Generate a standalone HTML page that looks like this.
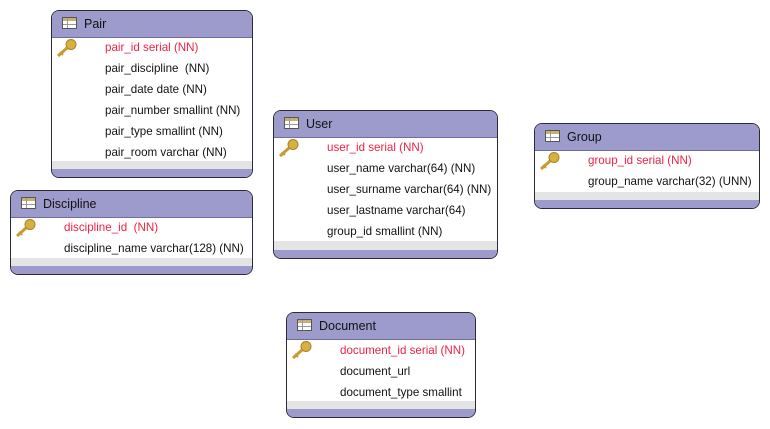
<!DOCTYPE html>
<html><head><meta charset="utf-8"><style>
html,body{margin:0;padding:0;background:#fff;width:770px;height:429px;overflow:hidden}
.t{position:absolute;border:1px solid #2a2a3a;border-radius:8px;background:#fff;overflow:hidden;box-sizing:border-box;font-family:"Liberation Sans","DejaVu Sans",sans-serif;font-size:11.6px;color:#111}
.h{position:absolute;left:0;right:0;top:0;height:26px;background:#9d9bcb;border-bottom:1px solid #6e6ca0}
.h span{position:absolute;left:32px;top:6px;font-size:12.5px;color:#111}
.ic{position:absolute;left:10px;top:6px;width:15px;height:12px;border:1px solid #555;background:linear-gradient(#c8b070 0 3px,#fff 3px);box-sizing:border-box}
.ic:before{content:"";position:absolute;left:4px;top:0;bottom:0;width:1px;background:#999}
.ic:after{content:"";position:absolute;left:0;right:0;top:6px;height:1px;background:#999}
.r{position:absolute;white-space:nowrap}
.red{color:#ee2244}
.g{position:absolute;left:0;right:0;height:9px;background:#e4e4e4}
.p{position:absolute;left:0;right:0;bottom:0;height:8px;background:#9d9bcb}
.k{position:absolute;width:22px;height:18px}
</style></head><body>
<svg width="0" height="0" style="position:absolute"><defs>
<g id="key"><circle cx="15" cy="5.5" r="5" fill="#d8b040" stroke="#a88420"/><line x1="11" y1="9" x2="2" y2="17" stroke="#c89a30" stroke-width="3"/><line x1="4" y1="13" x2="7" y2="16" stroke="#c89a30" stroke-width="2"/></g>
</defs></svg>

<div class="t" style="left:51px;top:10px;width:202px;height:168px">
<div class="h"><div class="ic"></div><span>Pair</span></div>
<svg class="k" style="left:4px;top:28px"><use href="#key"/></svg>
<div class="r red" style="left:53px;top:30px">pair_id serial (NN)</div>
<div class="r" style="left:53px;top:51px">pair_discipline&nbsp; (NN)</div>
<div class="r" style="left:53px;top:72px">pair_date date (NN)</div>
<div class="r" style="left:53px;top:93px">pair_number smallint (NN)</div>
<div class="r" style="left:53px;top:114px">pair_type smallint (NN)</div>
<div class="r" style="left:53px;top:135px">pair_room varchar (NN)</div>
<div class="g" style="top:150px"></div><div class="p"></div>
</div>

<div class="t" style="left:10px;top:190px;width:243px;height:85px">
<div class="h"><div class="ic"></div><span>Discipline</span></div>
<svg class="k" style="left:4px;top:28px"><use href="#key"/></svg>
<div class="r red" style="left:53px;top:30px">discipline_id&nbsp; (NN)</div>
<div class="r" style="left:53px;top:51px">discipline_name varchar(128) (NN)</div>
<div class="g" style="top:67px"></div><div class="p"></div>
</div>

<div class="t" style="left:273px;top:110px;width:225px;height:149px">
<div class="h"><div class="ic"></div><span>User</span></div>
<svg class="k" style="left:4px;top:28px"><use href="#key"/></svg>
<div class="r red" style="left:53px;top:30px">user_id serial (NN)</div>
<div class="r" style="left:53px;top:51px">user_name varchar(64) (NN)</div>
<div class="r" style="left:53px;top:72px">user_surname varchar(64) (NN)</div>
<div class="r" style="left:53px;top:93px">user_lastname varchar(64)</div>
<div class="r" style="left:53px;top:114px">group_id smallint (NN)</div>
<div class="g" style="top:130px"></div><div class="p"></div>
</div>

<div class="t" style="left:534px;top:123px;width:226px;height:86px">
<div class="h"><div class="ic"></div><span>Group</span></div>
<svg class="k" style="left:4px;top:28px"><use href="#key"/></svg>
<div class="r red" style="left:53px;top:30px">group_id serial (NN)</div>
<div class="r" style="left:53px;top:51px">group_name varchar(32) (UNN)</div>
<div class="g" style="top:68px"></div><div class="p"></div>
</div>

<div class="t" style="left:286px;top:312px;width:190px;height:106px">
<div class="h"><div class="ic"></div><span>Document</span></div>
<svg class="k" style="left:4px;top:28px"><use href="#key"/></svg>
<div class="r red" style="left:53px;top:31px">document_id serial (NN)</div>
<div class="r" style="left:53px;top:52px">document_url</div>
<div class="r" style="left:53px;top:73px">document_type smallint</div>
<div class="g" style="top:88px"></div><div class="p"></div>
</div>
</body></html>
